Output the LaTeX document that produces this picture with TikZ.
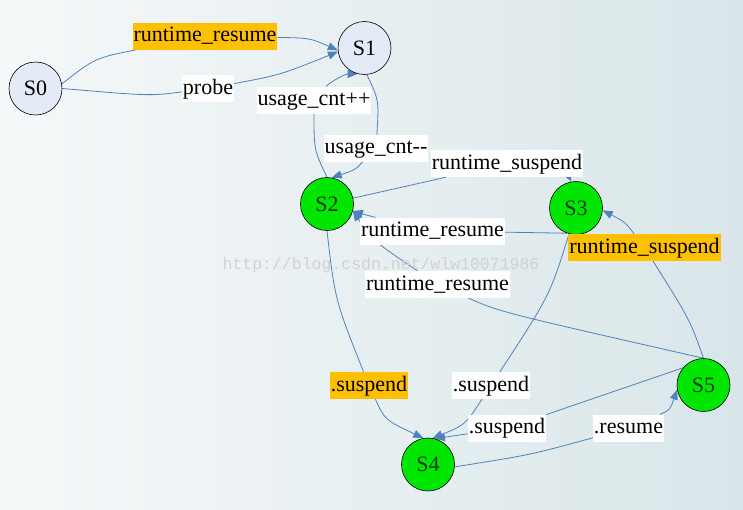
\documentclass[tikz,border=0pt]{standalone}
\usepackage{fontspec}
\setmainfont{Liberation Serif}
\newfontfamily\markfont{Liberation Mono}
\usepackage{tikz}
\usetikzlibrary{arrows.meta}
\definecolor{edgeblue}{RGB}{79,129,189}
\definecolor{idlefill}{RGB}{228,234,246}
\definecolor{awakefill}{RGB}{0,230,0}
\definecolor{statetext}{RGB}{0,60,0}
\definecolor{hilite}{RGB}{255,192,0}
\definecolor{paperl}{RGB}{246,248,249}
\definecolor{paperr}{RGB}{217,230,233}
\pgfdeclarelayer{paper}
\pgfdeclarelayer{wires}
\pgfsetlayers{paper,wires,main}

\begin{document}
\begin{tikzpicture}[x=1pt,y=-1pt,
    state/.style={circle,draw=black,line width=0.6pt,minimum size=53pt,inner sep=0pt,font=\fontsize{22}{24}\selectfont},
    idle/.style={state,fill=idlefill},
    awake/.style={state,fill=awakefill,text=statetext},
    lbl/.style={fill=white,inner xsep=1pt,inner ysep=2.5pt,text height=16.5pt,text depth=5.5pt,font=\fontsize{22}{24}\selectfont},
    hot/.style={lbl,fill=hilite},
    wire/.style={draw=edgeblue,line width=0.8pt,-{Triangle[length=10pt,width=8pt]}}]
      \useasboundingbox (0,0) rectangle (743,509);
      \begin{pgfonlayer}{paper}
      \fill[left color=paperl,right color=paperr] (0,0) rectangle (743,509);
      \end{pgfonlayer}
      \node[font=\markfont\fontsize{16.5}{18}\selectfont,text=black!18] at (381,265) (mark) {http://blog.csdn.net/wlw10071986};
      \node[idle] at (35.5,88.5) (S0) {S0};
      \node[idle] at (364.5,48) (S1) {S1};
      \node[awake] at (327,204) (S2) {S2};
      \node[awake] at (576,208) (S3) {S3};
      \node[awake] at (428,464.5) (S4) {S4};
      \node[awake] at (703.5,385) (S5) {S5};
      \node[hot] at (205,36) (rr1) {runtime\_resume};
      \node[lbl] at (208,88.5) (prb) {probe};
      \node[lbl] at (314,100) (uinc) {usage\_cnt++};
      \node[lbl] at (376,148) (udec) {usage\_cnt-\kern0pt-};
      \node[lbl] at (507,163.5) (rsus) {runtime\_suspend};
      \node[lbl] at (432.5,231) (rres1) {runtime\_resume};
      \node[hot] at (644.5,247.5) (rsus2) {runtime\_suspend};
      \node[lbl] at (437.5,284.5) (rres2) {runtime\_resume};
      \node[hot] at (369,385.5) (sus1) {.suspend};
      \node[lbl] at (491,385.5) (sus2) {.suspend};
      \node[lbl] at (507,428) (sus3) {.suspend};
      \node[lbl] at (628.5,428) (res) {.resume};
      \begin{pgfonlayer}{wires}
      \draw[wire] (S0.10) .. controls (95,58) .. (rr1) .. controls (310,38) .. (S1.185);
      \draw[wire] (S0.east) .. controls (150,96) .. (prb) .. controls (280,75) .. (S1.188);
      \draw[wire] (S2.north) .. controls (314,150) .. (uinc) .. controls (330,82) and (345,74) .. (S1.255);
      \draw[wire] (S1.275) .. controls (379,100) .. (udec) .. controls (355,170) .. (S2.80);
      \draw[wire] (S2) -- (rsus) ([xshift=62pt]rsus.south) -- (S3.100);
      \draw[wire] (S3.250) -- (rres1) .. controls (366,215) .. (S2.-15);
      \draw[wire] (S5.north) .. controls (500,312) .. (rres2) .. controls (372,240) .. (S2.-15);
      \draw[wire] (S5.north) .. controls (690,320) .. (rsus2) .. controls (625,222) .. (S3.-5);
      \draw[wire] (S2.south) .. controls (335,300) .. (sus1) .. controls (385,420) .. (S4.100);
      \draw[wire] (S3.255) .. controls (550,295) .. (sus2) .. controls (465,425) .. (S4.80);
      \draw[wire] (S5.140) -- (sus3) -- (S4.75);
      \draw[wire] (S4.-5) .. controls (530,455) .. (res) .. controls (670,410) .. (S5.190);
      \end{pgfonlayer}
    \end{tikzpicture}
\end{document}
